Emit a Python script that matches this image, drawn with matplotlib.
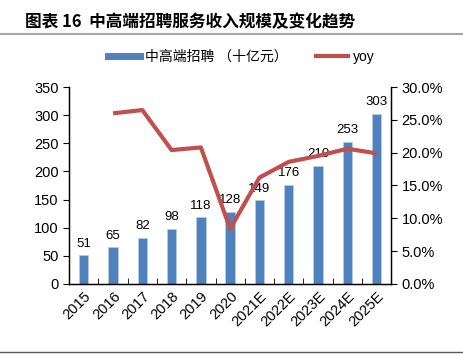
import matplotlib
matplotlib.use("Agg")
import matplotlib.pyplot as plt
from matplotlib.lines import Line2D
import numpy as np

plt.rcParams['font.family'] = ['Liberation Sans', 'Noto Sans CJK SC', 'DejaVu Sans']

years = ["2015", "2016", "2017", "2018", "2019", "2020",
         "2021E", "2022E", "2023E", "2024E", "2025E"]
revenue = [51, 65, 82, 98, 118, 128, 149, 176, 210, 253, 303]
yoy = [None, 26.0, 26.5, 20.4, 20.8, 8.4, 16.2, 18.6, 19.5, 20.6, 19.9]

bar_color = "#4F81BD"
line_color = "#C0504D"

fig = plt.figure(figsize=(4.64, 3.57), dpi=100)
ax = fig.add_axes([0.149, 0.205, 0.694, 0.551])
x = np.arange(len(years))

ax.bar(x, revenue, width=0.32, color=bar_color, edgecolor="#B9CDE5", linewidth=0.5)
for xi, v in zip(x, revenue):
    ax.annotate(str(v), (xi, v), xytext=(0, 4), textcoords="offset points",
                ha="center", va="bottom", fontsize=9.5)

ax.set_xlim(-0.5, len(years) - 0.5)
ax.set_ylim(0, 350)
ax.set_yticks(range(0, 351, 50))
ax.tick_params(axis="y", labelsize=10.5, length=4, direction="out")
ax.set_xticks(x)
ax.set_xticklabels(years, rotation=45, ha="right", rotation_mode="anchor", fontsize=10.5)
ax.tick_params(axis="x", length=0, pad=4)
ax.set_xticks(np.arange(-0.5, len(years), 1), minor=True)
ax.tick_params(axis="x", which="minor", length=4, direction="in")
ax.spines["top"].set_visible(False)
for s in ["left", "bottom", "right"]:
    ax.spines[s].set_linewidth(1.0)

ax2 = ax.twinx()
yx = [xi for xi, v in zip(x, yoy) if v is not None]
yv = [v for v in yoy if v is not None]
ax2.plot(yx, yv, color=line_color, linewidth=3, solid_capstyle="butt")
ax2.set_ylim(0, 30)
ax2.set_yticks(range(0, 31, 5))
ax2.set_yticklabels([f"{t:.1f}%" for t in range(0, 31, 5)])
ax2.tick_params(axis="y", labelsize=10.5, length=4, direction="out")
ax2.spines["top"].set_visible(False)

# title and rules
fig.text(0.054, 0.938, "图表 16  中高端招聘服务收入规模及变化趋势", fontsize=12,
         fontweight="bold", va="center", ha="left",
         family=['Noto Sans CJK SC', 'DejaVu Sans'])
fig.add_artist(Line2D([0, 1], [0.905, 0.905], color="#A6A6A6", linewidth=1.5))
fig.add_artist(Line2D([0, 1], [0.014, 0.014], color="#595959", linewidth=1.0))

handles = [Line2D([], [], color=bar_color, linewidth=5),
           Line2D([], [], color=line_color, linewidth=3)]
fig.legend(handles, ["中高端招聘 （十亿元）", "yoy"], loc="center",
           bbox_to_anchor=(0.52, 0.84), ncol=2, frameon=False, fontsize=10,
           handlelength=2.3, columnspacing=2.0, handletextpad=0.4)

fig.savefig("out.png", dpi=100)
